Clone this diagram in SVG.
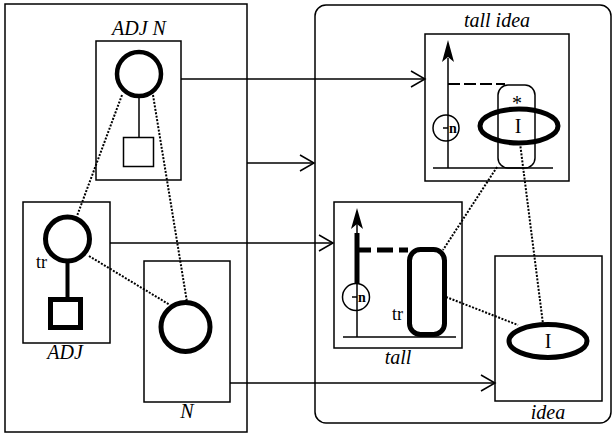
<svg xmlns="http://www.w3.org/2000/svg" width="614" height="434" viewBox="0 0 614 434">
<defs>
<style>
.box{fill:none;stroke:#000;stroke-width:1.5}
.thin{fill:none;stroke:#000;stroke-width:1.5}
.thick{fill:none;stroke:#000;stroke-width:5}
.dot{fill:none;stroke:#000;stroke-width:2;stroke-dasharray:2 1.5}
.conn{fill:none;stroke:#000;stroke-width:1.5}
.lbl{font-family:"Liberation Serif",serif;font-style:italic;font-size:20px;text-anchor:middle}
.txt{font-family:"Liberation Serif",serif;font-size:18px}
.big{font-family:"Liberation Serif",serif;font-size:20px;text-anchor:middle}
.sm{font-family:"Liberation Serif",serif;font-size:14px;font-weight:bold}
</style>
<marker id="open" viewBox="-16 -10 18 20" refX="0" refY="0" markerWidth="18" markerHeight="20" markerUnits="userSpaceOnUse" orient="auto">
<path d="M-14,-8 L0,0 L-14,8" fill="none" stroke="#000" stroke-width="1.5"/>
</marker>
</defs>
<rect width="614" height="434" fill="#fff"/>

<g id="left-frame"><rect class="box" x="5" y="4" width="242" height="428"/></g>
<g id="right-frame"><rect class="box" x="315" y="5" width="296" height="418" rx="11"/></g>

<g id="adjn">
<rect class="box" x="96" y="41" width="85" height="139"/>
<text class="lbl" x="139" y="35">ADJ N</text>
<circle cx="139" cy="74" r="22" fill="none" stroke="#000" stroke-width="4.5"/>
<line class="thin" x1="139" y1="98" x2="139" y2="137"/>
<rect class="thin" x="123.5" y="137.5" width="30" height="29"/>
</g>

<g id="adj">
<rect class="box" x="23" y="202" width="87" height="141"/>
<text class="lbl" x="65" y="359">ADJ</text>
<circle class="thick" cx="67.5" cy="239" r="22"/>
<line x1="67.5" y1="263" x2="67.5" y2="298" stroke="#000" stroke-width="4"/>
<rect class="thick" x="50.5" y="299.5" width="30" height="28"/>
<text class="txt" x="36" y="268">tr</text>
</g>

<g id="n">
<rect class="box" x="144" y="261" width="86" height="141"/>
<text class="lbl" x="187" y="418">N</text>
<circle class="thick" cx="185.5" cy="327" r="24.5"/>
</g>

<g id="tallidea">
<rect class="box" x="425" y="34" width="144" height="147"/>
<text class="lbl" x="497" y="27">tall idea</text>
<line class="thin" x1="433" y1="168" x2="553" y2="168"/>
<line class="thin" x1="448" y1="168" x2="448" y2="58"/>
<polygon points="448,40 454,62 448,57 442,62" fill="#000"/>
<line x1="448" y1="84" x2="505" y2="84" stroke="#000" stroke-width="2" stroke-dasharray="12 4"/>
<circle class="thin" cx="446" cy="128" r="13"/>
<line class="thin" x1="443" y1="128" x2="448" y2="128"/>
<text class="sm" x="449" y="133">n</text>
<rect class="thin" x="498" y="85" width="37" height="83" rx="10"/>
<text class="big" x="517" y="110">*</text>
<ellipse class="thick" cx="519" cy="126" rx="39" ry="17"/>
<text class="big" x="518" y="133">I</text>
</g>

<g id="tall">
<rect class="box" x="334" y="202" width="128" height="146"/>
<text class="lbl" x="398" y="364">tall</text>
<line class="thin" x1="343" y1="337" x2="456" y2="337"/>
<line class="thin" x1="357" y1="337" x2="357" y2="224"/>
<polygon points="357,208 363,229 357,224 351,229" fill="#000"/>
<line x1="357" y1="233" x2="357" y2="284" stroke="#000" stroke-width="5"/>
<line x1="355" y1="250" x2="408" y2="250" stroke="#000" stroke-width="5" stroke-dasharray="16 6"/>
<circle class="thin" cx="356" cy="297" r="13.5"/>
<line class="thin" x1="352" y1="297" x2="357" y2="297"/>
<text class="sm" x="358" y="302">n</text>
<rect class="thick" x="409.5" y="249.5" width="35" height="85" rx="11"/>
<text class="txt" x="392" y="320">tr</text>
</g>

<g id="idea">
<rect class="box" x="495" y="256" width="107" height="145"/>
<text class="lbl" x="548" y="419">idea</text>
<ellipse class="thick" cx="548" cy="341" rx="39" ry="16.5"/>
<text class="big" x="548" y="348">I</text>
</g>

<g id="connectors">
<line class="conn" x1="181" y1="79" x2="425" y2="79" marker-end="url(#open)"/>
<line class="conn" x1="247" y1="163" x2="314" y2="163" marker-end="url(#open)"/>
<line class="conn" x1="110" y1="243" x2="333" y2="243" marker-end="url(#open)"/>
<line class="conn" x1="230" y1="383" x2="495" y2="383" marker-end="url(#open)"/>
<line class="dot" x1="122" y1="95" x2="77" y2="216"/>
<line class="dot" x1="153" y1="95" x2="187" y2="302"/>
<line class="dot" x1="89" y1="256" x2="170" y2="305"/>
<line class="dot" x1="497" y1="167" x2="443" y2="250"/>
<line class="dot" x1="520" y1="143" x2="543" y2="324"/>
<line class="dot" x1="446" y1="297" x2="518" y2="325"/>
</g>
</svg>
